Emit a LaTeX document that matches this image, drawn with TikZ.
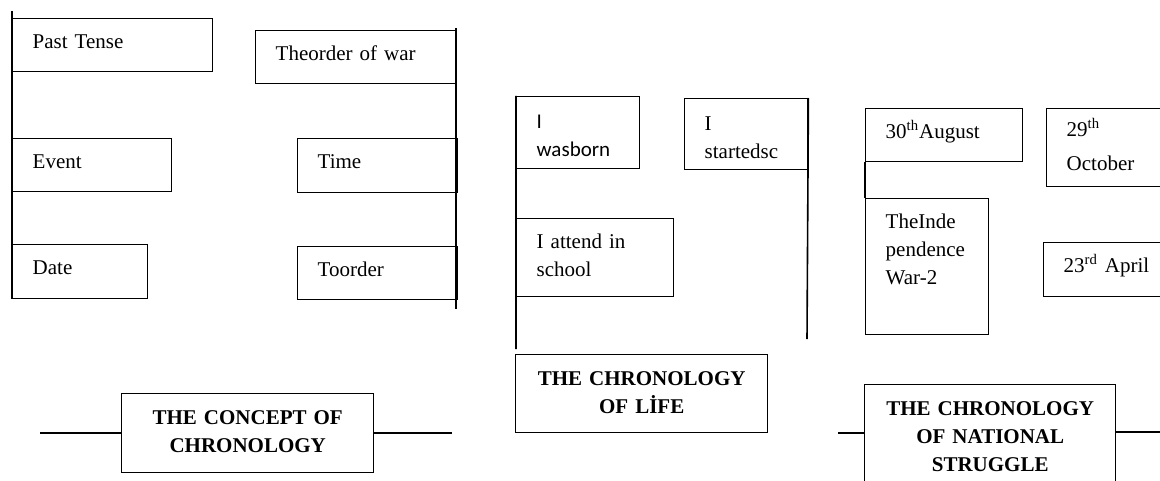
\documentclass[tikz,border=0pt]{standalone}
\usepackage{fontspec}
\setmainfont{Liberation Serif}
\newfontfamily\calib{Carlito}
\usetikzlibrary{positioning}
\usetikzlibrary{calc}

\begin{document}
\begin{tikzpicture}[x=0.5pt,y=-0.5pt,
  box/.style={draw,line width=0.7pt,anchor=north west,align=left,inner xsep=10pt,inner ysep=0pt,
    text height=15pt,font=\fontsize{10.5}{14}\selectfont},
  head/.style={box,align=center,text height=15.5pt,font=\fontsize{10.5}{14}\selectfont\bfseries},
  conn/.style={line width=0.8pt}]

\useasboundingbox (0,0) rectangle (1160,481);
\clip (0,0) rectangle (1160,481);

%the concept of chronology
\node[box,text width=80pt,text depth=11.5pt] (Past) at (12,18) {Past Tense};
\node[box,text width=80.5pt,text depth=11.5pt] (Order) at (255,30) {Theorder of war};
\node[box,text width=59.5pt,text depth=11.5pt] (Event) at (12,138) {Event};
\node[box,text width=60pt,text depth=12pt] (Time) at (297,138) {Time};
\node[box,text width=47.5pt,text depth=12pt] (Date) at (12,244) {Date};
\node[box,text width=60pt,text depth=11.5pt] (Toord) at (297,246) {Toorder};
\node[head,text width=106pt,text depth=24pt] (Concept) at (121,393) {THE CONCEPT OF\\CHRONOLOGY};

\coordinate (Ltop) at (12,11);
\coordinate (Rtop) at (456,28);
\coordinate (Rbot) at (456,309);
\coordinate (CL) at (40,433);
\coordinate (CR) at (452,433);

\draw[conn] (Ltop) -- (Date.south west)
  (Rtop) -- (Rbot)
  (CL) -- (CL -| Concept.west)
  (CR -| Concept.east) -- (CR);

%the chronology of life
\node[box,text width=41.5pt,text height=16pt,text depth=20pt] (Born) at (516,96) {{\calib I}\\{\calib wasborn}};
\node[box,text width=41.5pt,text height=16pt,text depth=19.5pt] (Started) at (684,98) {I\\startedsc};
\node[box,text width=58.5pt,text depth=24pt] (Attend) at (516,218) {I attend in\\school};
\node[head,text width=106pt,text depth=23.5pt] (Life) at (515,354) {THE CHRONOLOGY\\OF LİFE};

\coordinate (LifeTop) at (516,349);
\coordinate (SBot) at (807,339);

\draw[conn] (Born.north west) -- (LifeTop)
  (Started.north east) -- (SBot);

%the chronology of national struggle
\node[box,text width=58.5pt,text depth=11.5pt] (Aug) at (865,108) {30\textsuperscript{th}August};
\node[box,text width=41.5pt,text depth=53pt] (Inde) at (865,198) {TheInde\\pendence\\War-2};
\node[box,text width=50pt,text height=14pt,text depth=25pt] (Oct) at (1046,108) {29\textsuperscript{th}\\[3pt]October};
\node[box,text width=50pt,text depth=12pt] (Apr) at (1043,242) {23\textsuperscript{rd} April};
\node[head,text width=105.5pt,text depth=44.5pt] (Nat) at (864,384) {THE CHRONOLOGY\\OF NATIONAL\\STRUGGLE};

\coordinate (NL) at (838,433);
\coordinate (NR) at (1160,432);

\draw[conn] (Aug.south west) -- (Inde.north west)
  (NL) -- (NL -| Nat.west)
  (NR -| Nat.east) -- (NR);

\end{tikzpicture}
\end{document}
